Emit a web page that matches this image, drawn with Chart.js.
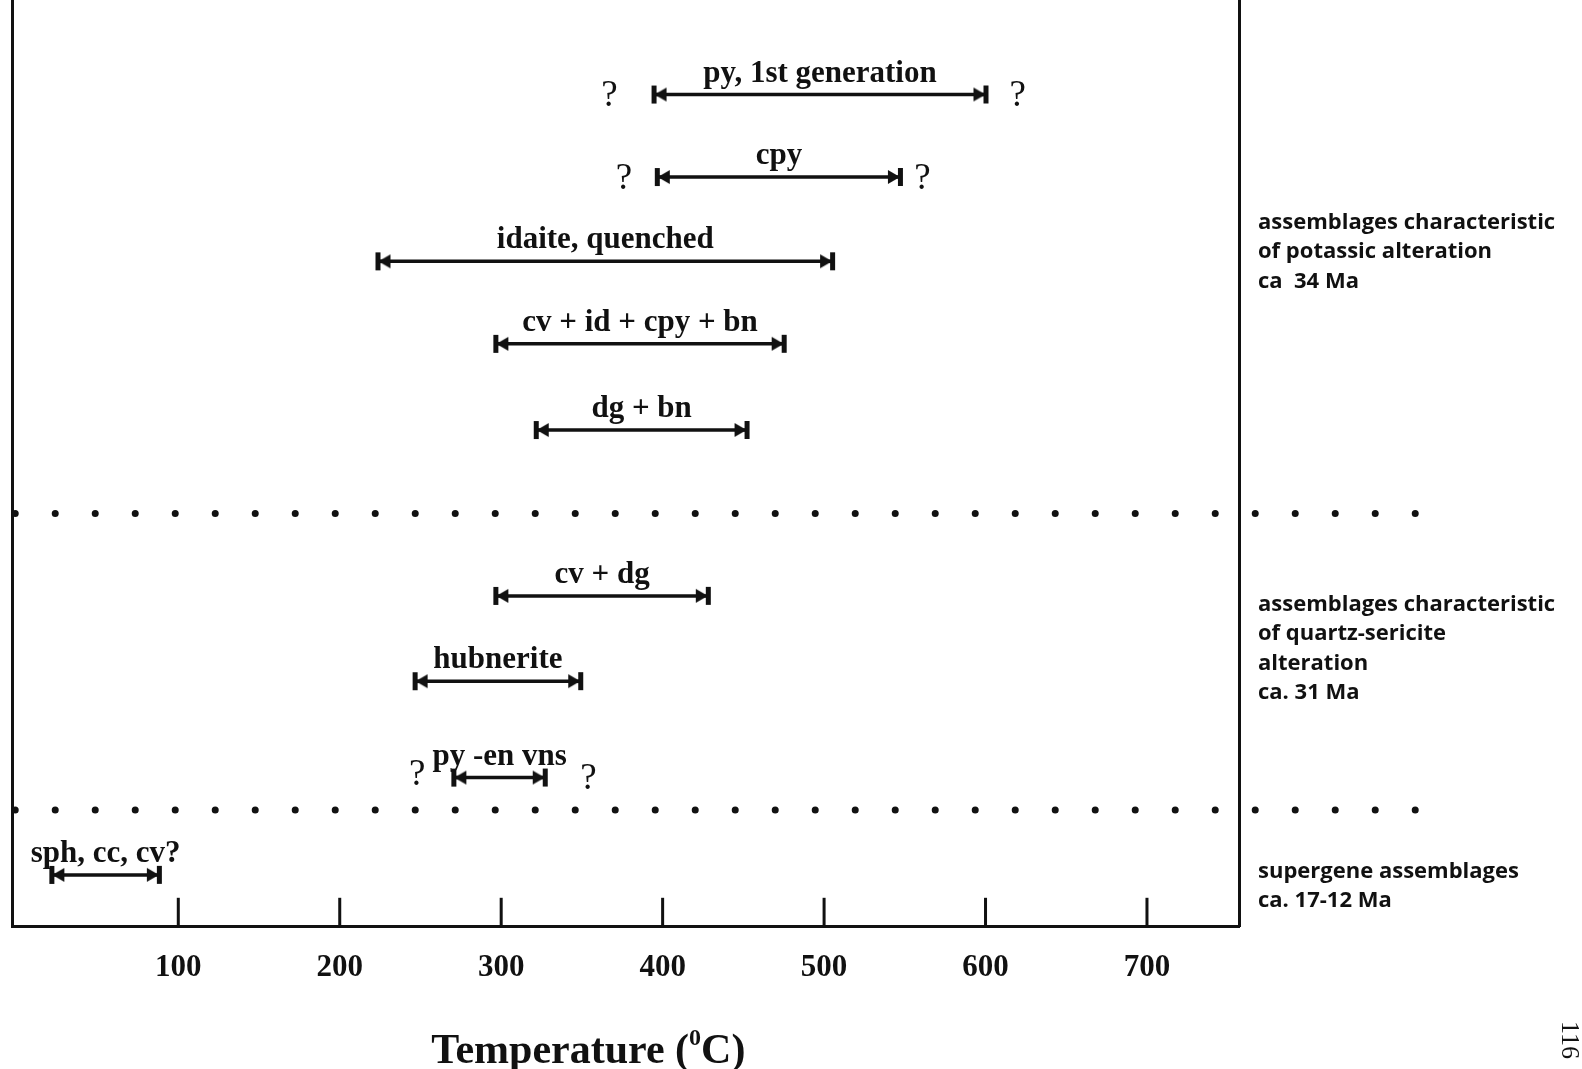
<!DOCTYPE html>
<html>
<head>
<meta charset="utf-8">
<script src="https://cdn.jsdelivr.net/npm/chart.js@4.4.0/dist/chart.umd.min.js"></script>
<style>
    html, body { margin: 0; padding: 0; background: #fff; }
    #wrap { width: 1582px; height: 1069px; position: relative; }
</style>
</head>
<body>
<div id="wrap"><canvas id="chart"></canvas></div>
<script>
// mineral assemblages, top to bottom
const assemblages = ["py, 1st generation", "cpy", "idaite, quenched", "cv + id + cpy + bn", "dg + bn",
    "cv + dg", "hubnerite", "py -en vns", "sph, cc, cv?"];
const tempFrom = [395, 397, 224, 297, 322, 297, 247, 271, 22];
const tempTo = [600, 547, 505, 475, 452, 428, 349, 327, 88];
const rowLevel = [10.2, 19.1, 28.2, 37.1, 46.4, 64.3, 73.5, 83.9, 94.4];

// uncertain limits, drawn as "?"
const queryTemp = [367, 620, 376, 561, 248, 354];
const queryLevel = [10.2, 10.2, 19.1, 19.1, 83.4, 83.9];

// dotted boundaries between the alteration stages
const stageBreaks = [55.4, 87.4];
const breakFrom = -1;
const breakTo = 868;

// stage descriptions on the right
const stageNames = [
    ["assemblages characteristic", "of potassic alteration", "ca  34 Ma"],
    ["assemblages characteristic", "of quartz-sericite", "alteration", "ca. 31 Ma"],
    ["supergene assemblages", "ca. 17-12 Ma"]
];
const stageLevel = [27.2, 70.0, 95.6];

const xTicks = [100, 200, 300, 400, 500, 600, 700];

const ink = '#111';
const serif = "'Liberation Serif', 'Times New Roman', serif";

// end marker: bar with an arrow head pointing at it
const cap = document.createElement('canvas');
cap.width = 30;
cap.height = 24;
(function () {
    let c = cap.getContext('2d');
    c.fillStyle = ink;
    c.fillRect(12, 3, 5, 18);
    c.beginPath();
    c.moveTo(15, 12);
    c.lineTo(27, 5);
    c.lineTo(27, 19);
    c.closePath();
    c.fill();
})();

let datasets = [];
for (let i = 0; i < assemblages.length; i++) {
    datasets.push({
        label: assemblages[i],
        data: [{ x: tempFrom[i], y: rowLevel[i] }, { x: tempTo[i], y: rowLevel[i] }],
        showLine: true,
        borderColor: ink,
        borderWidth: 3.5,
        pointStyle: cap,
        pointRadius: 10,
        pointRotation: (ctx) => ctx.dataIndex === 0 ? 0 : 180,
        clip: false
    });
}
for (let level of stageBreaks) {
    datasets.push({
        label: 'break',
        data: [{ x: breakFrom, y: level }, { x: breakTo, y: level }],
        showLine: true,
        borderColor: ink,
        borderWidth: 7,
        borderDash: [0, 40],
        borderCapStyle: 'round',
        pointRadius: 0,
        clip: false
    });
}

const background = {
    id: 'background',
    beforeDraw(chart) {
        let ctx = chart.ctx;
        ctx.save();
        ctx.fillStyle = '#fff';
        ctx.fillRect(0, 0, chart.width, chart.height);
        ctx.restore();
    }
};

const annotations = {
    id: 'annotations',
    afterDraw(chart) {
        let ctx = chart.ctx;
        let x = chart.scales.x;
        let y = chart.scales.y;
        let area = chart.chartArea;
        ctx.save();
        ctx.fillStyle = ink;

        // tick marks pointing into the plot
        for (let v of xTicks) {
            let px = x.getPixelForValue(v);
            ctx.fillRect(px - 1.5, area.bottom - 29, 3, 29);
        }

        // range labels
        ctx.font = 'bold 31px ' + serif;
        ctx.textAlign = 'center';
        ctx.textBaseline = 'middle';
        for (let i = 0; i < assemblages.length; i++) {
            let mid = (tempFrom[i] + tempTo[i]) / 2;
            ctx.fillText(assemblages[i], x.getPixelForValue(mid), y.getPixelForValue(rowLevel[i]) - 21);
        }

        // question marks
        ctx.font = '37px ' + serif;
        for (let i = 0; i < queryTemp.length; i++) {
            ctx.fillText('?', x.getPixelForValue(queryTemp[i]), y.getPixelForValue(queryLevel[i]) + 2);
        }

        // stage descriptions
        ctx.font = 'bold 22px "Open Sans", sans-serif';
        ctx.textAlign = 'left';
        for (let s = 0; s < stageNames.length; s++) {
            let lines = stageNames[s];
            let cy = y.getPixelForValue(stageLevel[s]);
            for (let j = 0; j < lines.length; j++) {
                ctx.fillText(lines[j], area.right + 19, cy + (j - (lines.length - 1) / 2) * 29.5);
            }
        }

        // axis title with superscript degree
        let tx = x.getPixelForValue(354);
        let ty = chart.height - 20;
        let a = 'Temperature (';
        let b = 'C)';
        ctx.font = 'bold 24px ' + serif;
        let wSup = ctx.measureText('0').width;
        ctx.font = 'bold 42px ' + serif;
        let wA = ctx.measureText(a).width;
        let wB = ctx.measureText(b).width;
        let left = tx - (wA + wSup + wB) / 2;
        ctx.textBaseline = 'alphabetic';
        ctx.fillText(a, left, ty + 14);
        ctx.fillText(b, left + wA + wSup, ty + 14);
        ctx.font = 'bold 24px ' + serif;
        ctx.fillText('0', left + wA, ty - 4);

        // page number
        ctx.translate(chart.width - 13, chart.height - 29);
        ctx.rotate(Math.PI / 2);
        ctx.font = '26px ' + serif;
        ctx.textAlign = 'center';
        ctx.textBaseline = 'middle';
        ctx.fillText('116', 0, 0);
        ctx.restore();
    }
};

const frameAxis = {
    display: true,
    min: 0,
    max: 100,
    reverse: true,
    ticks: { display: false },
    grid: { display: true, drawOnChartArea: false, drawTicks: false },
    border: { display: true, width: 3, color: ink }
};

new Chart(document.getElementById('chart'), {
    type: 'scatter',
    data: { datasets: datasets },
    options: {
        responsive: true,
        maintainAspectRatio: false,
        animation: false,
        events: [],
        layout: { autoPadding: false, padding: { left: 12, right: 343, top: 0, bottom: 59 } },
        plugins: {
            legend: { display: false },
            tooltip: { enabled: false }
        },
        scales: {
            x: {
                type: 'linear',
                min: -3,
                max: 757,
                afterBuildTicks: (scale) => {
                    scale.ticks = xTicks.map(v => ({ value: v }));
                },
                ticks: {
                    color: ink,
                    padding: 23,
                    font: { family: serif, size: 31, weight: 'bold' }
                },
                grid: { display: true, drawOnChartArea: false, drawTicks: false },
                border: { display: true, width: 3, color: ink }
            },
            y: Object.assign({ position: 'left' }, frameAxis),
            y2: Object.assign({ position: 'right' }, frameAxis)
        }
    },
    plugins: [background, annotations]
});
</script>
</body>
</html>
